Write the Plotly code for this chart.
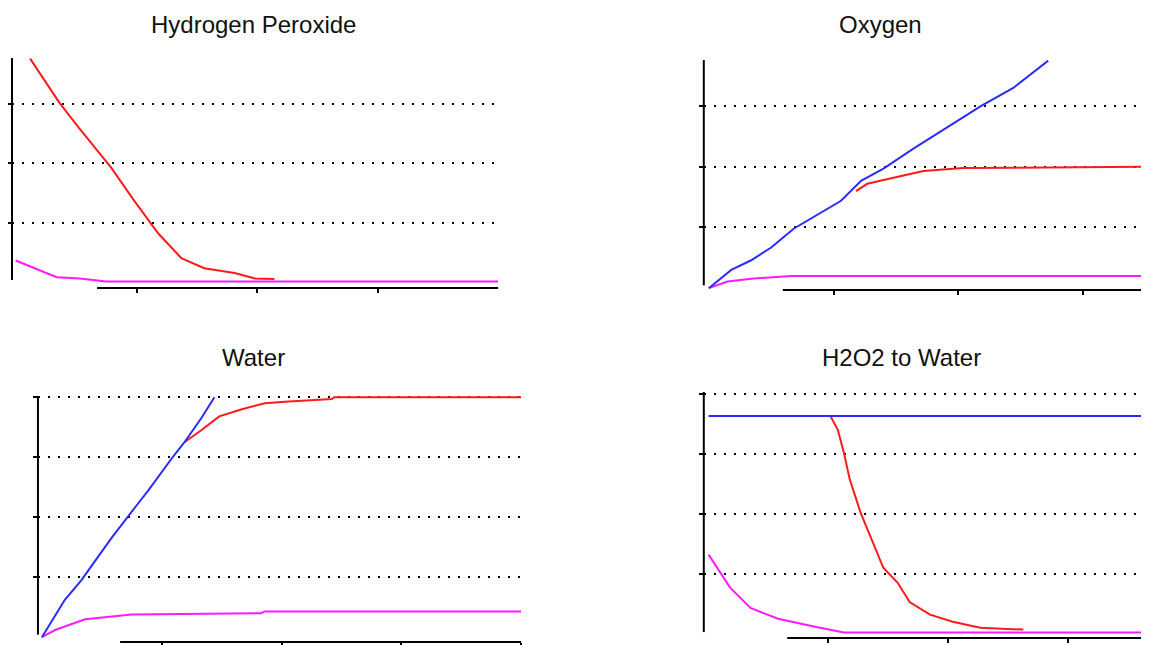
import plotly.graph_objects as go

W, H = 1149, 645
OFF = 8  # page body margin in the rendered html

# ---------------- data ----------------
titles = ["Hydrogen Peroxide", "Oxygen", "Water", "H2O2 to Water"]

# Panel 1: Hydrogen Peroxide
hp_red_x = [0.12, 0.36, 0.52, 0.79, 0.98, 1.18, 1.37, 1.56, 1.81, 1.98, 2.14]
hp_red_y = [3.75, 3.02, 2.60, 1.93, 1.38, 0.83, 0.42, 0.25, 0.17, 0.08, 0.07]
hp_mag_x = [0.0, 0.16, 0.34, 0.53, 0.75, 3.99]
hp_mag_y = [0.38, 0.25, 0.10, 0.08, 0.03, 0.03]

# Panel 2: Oxygen
ox_blue_x = [0.0, 0.18, 0.34, 0.50, 0.68, 0.79, 1.06, 1.22, 1.40, 1.64, 1.99, 2.18, 2.44, 2.72]
ox_blue_y = [0.0, 0.30, 0.46, 0.67, 0.98, 1.11, 1.44, 1.77, 1.97, 2.30, 2.75, 3.00, 3.30, 3.75]
ox_red_x = [1.18, 1.27, 1.48, 1.72, 2.04, 3.48]
ox_red_y = [1.60, 1.72, 1.82, 1.93, 1.98, 2.00]
ox_mag_x = [0.0, 0.15, 0.36, 0.66, 3.48]
ox_mag_y = [0.0, 0.11, 0.16, 0.20, 0.20]

# Panel 3: Water
wa_blue_x = [0.0, 0.19, 0.33, 0.58, 0.78, 0.89, 1.08, 1.19, 1.33, 1.44]
wa_blue_y = [0.0, 0.62, 0.95, 1.65, 2.17, 2.45, 2.97, 3.25, 3.65, 4.00]
wa_red_x = [1.19, 1.33, 1.48, 1.67, 1.86, 2.06, 2.42, 2.44, 4.00]
wa_red_y = [3.25, 3.45, 3.68, 3.80, 3.90, 3.93, 3.97, 4.00, 4.00]
wa_mag_x = [0.0, 0.11, 0.36, 0.75, 1.83, 1.86, 4.00]
wa_mag_y = [0.0, 0.12, 0.30, 0.38, 0.40, 0.43, 0.43]

# Panel 4: H2O2 to Water
hw_blue_x = [0.0, 3.63]
hw_blue_y = [3.63, 3.63]
hw_red_x = [1.02, 1.08, 1.13, 1.18, 1.27, 1.35, 1.46, 1.58, 1.68, 1.85, 2.04, 2.27, 2.63]
hw_red_y = [3.62, 3.40, 3.02, 2.57, 2.02, 1.62, 1.10, 0.85, 0.53, 0.32, 0.20, 0.10, 0.07]
hw_mag_x = [0.0, 0.08, 0.18, 0.35, 0.58, 0.88, 1.13, 3.63]
hw_mag_y = [1.32, 1.07, 0.77, 0.43, 0.25, 0.12, 0.02, 0.02]

panels = [
    dict(blue=None, red=(hp_red_x, hp_red_y), mag=(hp_mag_x, hp_mag_y)),
    dict(blue=(ox_blue_x, ox_blue_y), red=(ox_red_x, ox_red_y), mag=(ox_mag_x, ox_mag_y)),
    dict(blue=(wa_blue_x, wa_blue_y), red=(wa_red_x, wa_red_y), mag=(wa_mag_x, wa_mag_y)),
    dict(blue=(hw_blue_x, hw_blue_y), red=(hw_red_x, hw_red_y), mag=(hw_mag_x, hw_mag_y)),
]

# ---------------- layout geometry (pixels in the screenshot) ----------------
boxes = [  # left, right, top, bottom
    (10, 497, 58, 288),
    (703, 1143, 60, 290),
    (36, 520, 396, 642),
    (703, 1143, 392, 638),
]
xranges = [[-0.03, 3.99], [-0.04, 3.48], [-0.033, 4.0], [-0.04, 3.63]]
yranges = [[-0.08, 3.76], [-0.03, 3.76], [-0.08, 4.02], [-0.07, 4.03]]
xtick_sets = [[1, 2, 3, 4], [1, 2, 3], [1, 2, 3, 4], [1, 2, 3]]
ytick_sets = [[1, 2, 3], [1, 2, 3], [1, 2, 3, 4], [1, 2, 3, 4]]
xline_start = [0.175, 0.18, 0.17, 0.19]
yline_start = [0.035, 0.02, 0.03, 0.024]
title_pos = [(252, 24), (880, 24), (252, 357), (901, 357)]

RED = "#ff1a1a"
BLUE = "#2b2bff"
MAG = "#ff1aff"

fig = go.Figure()
layout = dict(
    width=W, height=H,
    margin=dict(l=0, r=0, t=0, b=0),
    paper_bgcolor="white", plot_bgcolor="white",
    showlegend=False,
    shapes=[], annotations=[],
)

for i, p in enumerate(panels):
    n = "" if i == 0 else str(i + 1)
    xa, ya = "x" + n, "y" + n
    for key, col in (("mag", MAG), ("red", RED), ("blue", BLUE)):
        if p[key] is None:
            continue
        xs, ys = p[key]
        fig.add_trace(go.Scatter(x=xs, y=ys, mode="lines", xaxis=xa, yaxis=ya,
                                 line=dict(color=col, width=2), hoverinfo="skip"))
    l, r, t, b = [v - OFF for v in boxes[i]]
    layout["xaxis" + n] = dict(
        domain=[l / W, r / W], range=xranges[i], anchor=ya,
        showgrid=False, zeroline=False, showline=False, showticklabels=False,
        tickmode="array", tickvals=xtick_sets[i], ticks="outside", ticklen=4,
        tickwidth=1.5, tickcolor="black",
    )
    layout["yaxis" + n] = dict(
        domain=[1 - b / H, 1 - t / H], range=yranges[i], anchor=xa,
        showgrid=True, gridcolor="black", gridwidth=2, griddash="2px,8px",
        zeroline=False, showline=False, showticklabels=False,
        tickmode="array", tickvals=ytick_sets[i], ticks="outside", ticklen=4,
        tickwidth=1.5, tickcolor="black",
    )
    layout["shapes"].append(dict(type="line", xref=xa + " domain", yref=ya + " domain",
                                 x0=xline_start[i], x1=1, y0=0, y1=0,
                                 line=dict(color="black", width=2)))
    layout["shapes"].append(dict(type="line", xref=xa + " domain", yref=ya + " domain",
                                 x0=0, x1=0, y0=yline_start[i], y1=1,
                                 line=dict(color="black", width=2)))
    tx, ty = title_pos[i]
    layout["annotations"].append(dict(
        text=titles[i], x=(tx - OFF) / W, y=1 - (ty - OFF) / H, xref="paper", yref="paper",
        xanchor="center", yanchor="middle", showarrow=False,
        font=dict(family="Liberation Sans, Arial, sans-serif", size=24, color="#111111"),
    ))

fig.update_layout(**layout)
fig.write_html("out.html")
